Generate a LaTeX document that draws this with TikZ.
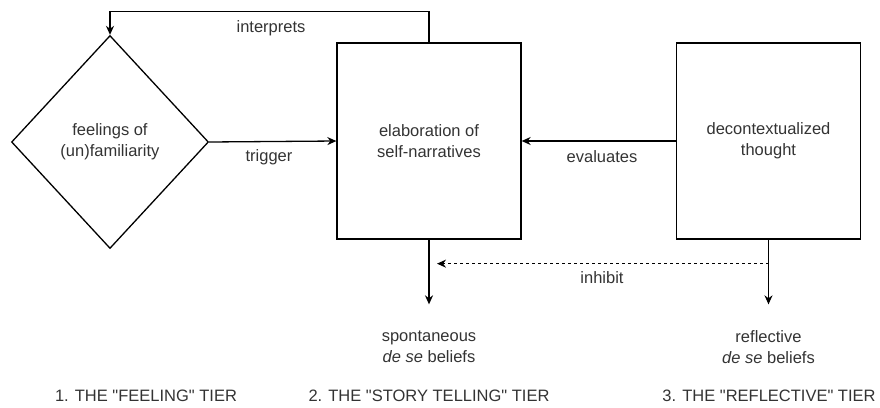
\documentclass[tikz,border=0pt]{standalone}
\usepackage{fontspec}
\setmainfont{Liberation Sans}
\usetikzlibrary{arrows.meta,shapes.geometric}

\begin{document}
\begin{tikzpicture}[x=1pt, y=-1pt, line width=1.3pt, >={Stealth[length=9pt,width=8pt]},
    every node/.style={font=\fontsize{16.5}{21}\selectfont, text=black!80, align=center},
    tierbox/.style={draw, rectangle, minimum width=184pt, minimum height=196pt, inner sep=0pt},
    outcome/.style={minimum height=84pt, inner sep=0pt}]
    \useasboundingbox (0,0) rectangle (880,407);

    \node[draw, diamond, minimum width=197pt, minimum height=213pt, inner sep=0pt] (feel) at (110,142) {feelings of\\(un)familiarity};
    \node[tierbox] (elab) at (429,141) {elaboration of\\self-narratives};
    \node[tierbox] (decon) at (768.5,141) {decontextualized\\thought};

    \node[outcome] (spont) at (429,347) {spontaneous\\\textit{de se} beliefs};
    \node[outcome] (refl) at (768.5,347) {reflective\\\textit{de se} beliefs};

    \draw[->] (elab.north) -- ++(0,-31) -| (feel.north);
    \draw[->] (feel.east) -- (elab.west);
    \draw[->] (decon.west) -- (elab.east);
    \draw[->] (elab.south) -- (spont.north);
    \draw[->] (decon.south) -- (refl.north);
    \draw[->, dash pattern=on 3pt off 3pt] ([yshift=-24pt]decon.south) -- ([xshift=8pt,yshift=-24pt]elab.south);

    \node (interp) at (271,28) {interprets};
    \node (trig) at (269,157) {trigger};
    \node (evals) at (602,157) {evaluates};
    \node (inhib) at (602,278) {inhibit};

    \node (tierA) at (146,396) {1. THE \textquotedbl FEELING\textquotedbl{} TIER};
    \node (tierB) at (429,396) {2. THE \textquotedbl STORY TELLING\textquotedbl{} TIER};
    \node (tierC) at (769,396) {3. THE \textquotedbl REFLECTIVE\textquotedbl{} TIER};
\end{tikzpicture}
\end{document}
